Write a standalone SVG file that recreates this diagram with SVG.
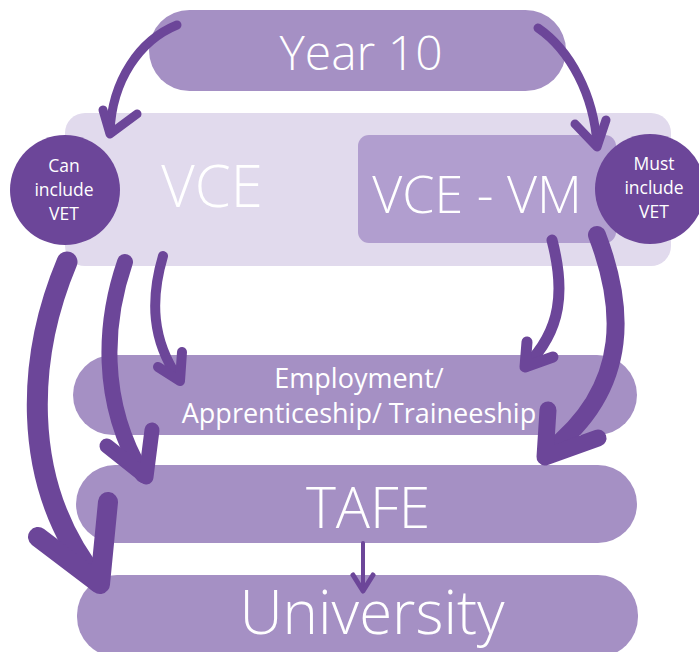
<svg xmlns="http://www.w3.org/2000/svg" width="699" height="652" viewBox="0 0 699 652">
<style>
.box{fill:#a590c4}
.outer{fill:#e1daed}
.vm{fill:#b19ecf}
.dot{fill:#6c4699}
text{font-family:"Open Sans","Noto Sans","DejaVu Sans",sans-serif;fill:#ffffff;text-anchor:middle;font-weight:300}
.small{font-size:17.5px;font-weight:400}
.mid{font-size:27px;font-weight:400}
.arr{fill:none;stroke:#6c4699;stroke-linecap:round;stroke-linejoin:round}
</style>
<rect width="699" height="652" fill="#ffffff"/>
<g id="year10">
<rect class="box" x="149" y="10" width="417" height="81" rx="40.5"/>
<text x="361" y="70" font-size="48">Year 10</text>
</g>
<g id="vce">
<rect class="outer" x="65" y="113" width="606" height="153" rx="20"/>
<text x="212" y="207" font-size="58">VCE</text>
</g>
<g id="vcevm">
<rect class="vm" x="358" y="135" width="258" height="108" rx="11"/>
<text x="477" y="213" font-size="52">VCE - VM</text>
</g>
<g id="can-vet">
<circle class="dot" cx="65" cy="190" r="55"/>
<text class="small" x="64" y="172">Can</text>
<text class="small" x="64" y="196">include</text>
<text class="small" x="64" y="220">VET</text>
</g>
<g id="must-vet">
<circle class="dot" cx="650" cy="189" r="55"/>
<text class="small" x="654" y="170">Must</text>
<text class="small" x="654" y="194">include</text>
<text class="small" x="654" y="218">VET</text>
</g>
<g id="employment">
<rect class="box" x="73" y="355" width="564" height="80" rx="40"/>
<text class="mid" x="359" y="388">Employment/</text>
<text class="mid" x="359" y="423">Apprenticeship/ Traineeship</text>
</g>
<g id="tafe">
<rect class="box" x="76" y="465" width="561" height="78" rx="39"/>
<text x="368" y="528" font-size="57">TAFE</text>
</g>
<g id="university">
<rect class="box" x="77" y="575" width="561" height="82" rx="40"/>
<text x="372" y="634" font-size="60">University</text>
</g>
<g id="connectors">
<path class="arr" stroke-width="9" d="M177,25 C140,40 112,80 110,132"/>
<polyline class="arr" stroke-width="9" points="103,110 110,134 137,114"/>
<path class="arr" stroke-width="9" d="M538,28 C570,50 594,95 597,145"/>
<polyline class="arr" stroke-width="9" points="575,124 597,147 606,120"/>
<path class="arr" stroke-width="21" d="M67,262 C30,350 15,480 98,582"/>
<polyline class="arr" stroke-width="20" points="38,537 100,584 108,502"/>
<path class="arr" stroke-width="16" d="M125,262 C105,320 98,400 143,475"/>
<polyline class="arr" stroke-width="15" points="107,446 146,477 152,430"/>
<path class="arr" stroke-width="10" d="M163,256 C150,300 152,340 178,378"/>
<polyline class="arr" stroke-width="10" points="158,367 180,381 182,352"/>
<path class="arr" stroke-width="11" d="M552,240 C565,290 562,330 526,366"/>
<polyline class="arr" stroke-width="11" points="527,342 525,367 553,357"/>
<path class="arr" stroke-width="18" d="M597,235 C622,300 635,385 548,452"/>
<polyline class="arr" stroke-width="17" points="548,410 545,457 598,438"/>
<path class="arr" stroke-width="4" d="M363,543 L363,590"/>
<polyline class="arr" stroke-width="5" points="353,575 363,591 373,575"/>
</g>
</svg>
